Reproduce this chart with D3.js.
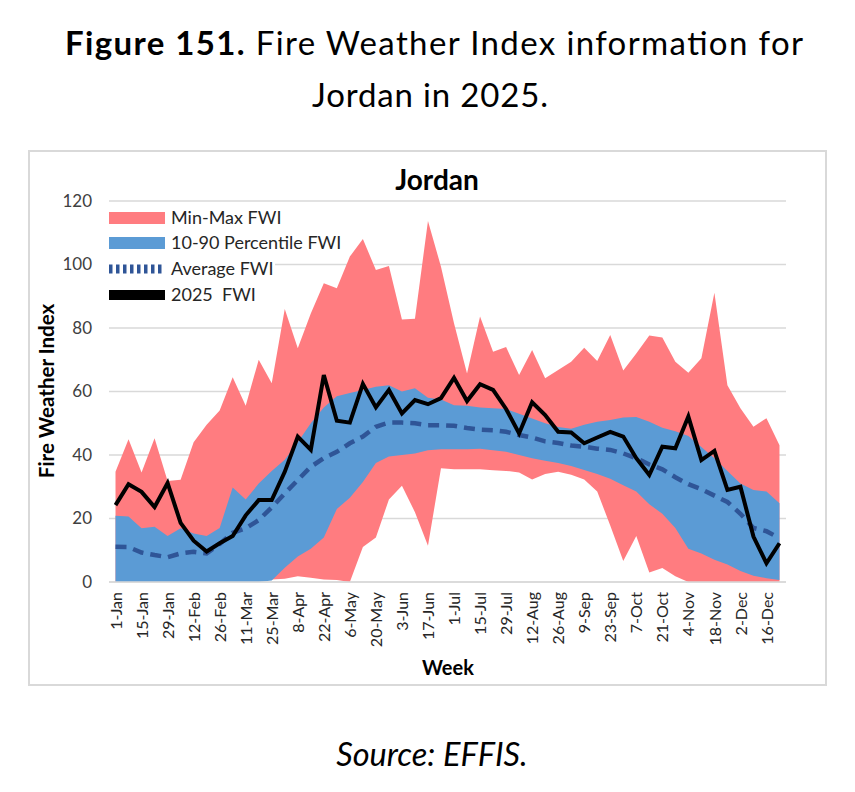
<!DOCTYPE html>
<meta charset="utf-8">
<script src="https://d3js.org/d3.v7.min.js"></script>
<style>
  body { margin: 0; background: #fff; }
  svg text { font-family: Lato, "Open Sans", sans-serif; }
</style>
<body>
<div id="chart"></div>
<script>

// week labels (every week of 2025, labels shown every other week)
const weeks = ["1-Jan","8-Jan","15-Jan","22-Jan","29-Jan","5-Feb","12-Feb","19-Feb","26-Feb","5-Mar",
  "11-Mar","18-Mar","25-Mar","1-Apr","8-Apr","15-Apr","22-Apr","29-Apr","6-May","13-May",
  "20-May","27-May","3-Jun","10-Jun","17-Jun","24-Jun","1-Jul","8-Jul","15-Jul","22-Jul",
  "29-Jul","5-Aug","12-Aug","19-Aug","26-Aug","2-Sep","9-Sep","16-Sep","23-Sep","30-Sep",
  "7-Oct","14-Oct","21-Oct","28-Oct","4-Nov","11-Nov","18-Nov","25-Nov","2-Dec","9-Dec",
  "16-Dec","23-Dec"];

const fwiMax = [34.7,45,34.5,45.3,31.8,32.2,44,49.5,54,64.5,55.5,70,62.6,86,73.6,84.6,94.1,92.5,102.5,108,
  98.3,99.5,82.7,82.9,113.7,99.3,81.5,65.7,83.6,72.5,74,65.2,73.1,64.2,66.8,69.4,73.8,69.6,77.8,66.6,
  72,77.6,77,69.4,65.9,70.5,91.1,62,54.7,48.9,51.6,43.1];

const fwiMin = [0,0,0,0,0,0,0,0,0,0,0.5,0.5,0.8,1,1.8,1.3,0.8,0.6,0,11,
  14,26,30.3,22,11.4,35.8,35.5,35.5,35.5,35.2,35,34.5,32.3,34,34.7,33.8,32.3,28.5,17.8,6.6,
  14.5,3,4.4,1.8,0,0,0,0,0,0,0,0];

const p90 = [20.9,20.6,16.9,17.4,14.5,16.9,15.3,14.5,17,29.8,26,31,35,38.5,44,50,55,58.5,59.5,60.5,
  61.5,62,60,61,58,57.5,55.7,55.5,55,54.7,54.5,53,51.5,50,48.8,48.3,49.5,50.5,51,51.8,
  52,50.5,48.6,47.5,46,42.5,39,35,31,29,28.5,24.8];

const p10 = [0,0,0,0,0,0,0,0,0,0,0,0,0.5,4.5,8,10.5,14,23,26.5,31.5,
  37.5,39.5,40,40.5,41.5,41.8,41.8,41.8,42,41.5,41,40,39,38.2,37.5,36.5,35.3,34,32.5,30.5,
  28.5,24.5,21.5,17,10.5,9,7,5.5,3.5,2,1.2,0.6];

const fwiAvg = [11.1,11,9.3,8.5,7.8,9,9.5,9,12,15.5,16.9,19.5,23.5,27.9,32.1,36.3,39,41,43.7,45.8,
  48.9,50.2,50.2,50,49.4,49.4,49.2,48.5,48,47.8,47.3,46.3,45.5,44.3,43.8,43,42.6,42,41.6,40.5,
  39,37,35.5,33,30.8,29.2,27.2,25.2,21.5,17,16,13.8];

const fwi2025 = [24.2,30.8,28.4,23.6,31.2,18.6,13,9.6,12.2,14.5,21,25.8,25.8,34.7,45.8,41.6,65.2,50.8,50.2,62.4,
  55,60.5,53.1,57.3,56,57.9,64.3,57,62.3,60.5,54.5,46.8,56.6,52.6,47.3,47.1,43.7,45.5,47.3,45.8,
  39,33.7,42.6,42.1,52.1,38.4,41.3,29,30,14.3,5.9,12.2];

const yTicks = [0, 20, 40, 60, 80, 100, 120];

const legendItems = ["Min-Max FWI", "10-90 Percentile FWI", "Average FWI", "2025  FWI"];

const W = 855, H = 792;
const plot = {left: 109, right: 786, top: 201, bottom: 582};

const svg = d3.select("#chart").append("svg")
  .attr("width", W).attr("height", H);

// figure caption
const cap1 = svg.append("text")
  .attr("x", 434).attr("y", 55)
  .attr("text-anchor", "middle")
  .attr("font-size", 33)
  .attr("textLength", 738).attr("lengthAdjust", "spacing")
  .attr("fill", "#000");
cap1.append("tspan").attr("font-weight", "bold").text("Figure 151.");
cap1.append("tspan").text(" Fire Weather Index information for");

svg.append("text")
  .attr("x", 430).attr("y", 107)
  .attr("text-anchor", "middle")
  .attr("font-size", 33)
  .attr("textLength", 236).attr("lengthAdjust", "spacing")
  .text("Jordan in 2025.");

svg.append("text")
  .attr("x", 432).attr("y", 766)
  .attr("text-anchor", "middle")
  .attr("font-style", "italic")
  .attr("font-size", 32.5)
  .text("Source: EFFIS.");

// chart frame
svg.append("rect")
  .attr("x", 29).attr("y", 151).attr("width", 797).attr("height", 534)
  .attr("fill", "none").attr("stroke", "#d9d9d9").attr("stroke-width", 2);

const x = d3.scalePoint()
  .domain(d3.range(weeks.length))
  .range([plot.left, plot.right])
  .padding(0.5);

const y = d3.scaleLinear()
  .domain([0, 120])
  .range([plot.bottom, plot.top]);

// gridlines
svg.append("g")
  .selectAll("line")
  .data(yTicks)
  .join("line")
    .attr("x1", plot.left).attr("x2", plot.right)
    .attr("y1", d => y(d)).attr("y2", d => y(d))
    .attr("stroke", "#d9d9d9").attr("stroke-width", 1.5);

// legend background (hides gridline behind the legend)
svg.append("rect")
  .attr("x", plot.left).attr("y", 206).attr("width", 166).attr("height", 100)
  .attr("fill", "#fff");

// y axis labels
const yAxis = svg.append("g")
  .attr("transform", `translate(${plot.left},0)`)
  .call(d3.axisLeft(y).tickValues(yTicks).tickSize(0).tickPadding(17));
yAxis.select(".domain").remove();
yAxis.selectAll("text")
  .attr("font-family", "Lato, sans-serif")
  .attr("font-size", 17)
  .attr("fill", "#404040");

// x axis labels
const xAxis = svg.append("g")
  .attr("transform", `translate(0,${plot.bottom})`)
  .call(d3.axisBottom(x)
    .tickValues(d3.range(0, weeks.length, 2))
    .tickFormat(i => weeks[i])
    .tickSize(0));
xAxis.select(".domain").remove();
xAxis.selectAll("text")
  .attr("font-family", "Lato, sans-serif")
  .attr("font-size", 16)
  .attr("fill", "#262626")
  .attr("transform", "rotate(-90)")
  .attr("text-anchor", "end")
  .attr("x", -10)
  .attr("y", 0)
  .attr("dy", "0.35em");

// areas
const pink = "#ff7c80", blue = "#5b9bd5", avgCol = "#2f5597";

svg.append("path")
  .datum(d3.range(weeks.length))
  .attr("fill", pink)
  .attr("d", d3.area()
    .x(i => x(i))
    .y0(i => y(fwiMin[i]))
    .y1(i => y(fwiMax[i])));

svg.append("path")
  .datum(d3.range(weeks.length))
  .attr("fill", blue)
  .attr("d", d3.area()
    .x(i => x(i))
    .y0(i => y(p10[i]))
    .y1(i => y(p90[i])));

// axis baseline
svg.append("line")
  .attr("x1", plot.left).attr("x2", plot.right)
  .attr("y1", y(0)).attr("y2", y(0))
  .attr("stroke", "#d9d9d9").attr("stroke-width", 1.5);

svg.append("path")
  .datum(fwiAvg)
  .attr("fill", "none")
  .attr("stroke", avgCol)
  .attr("stroke-width", 4.5)
  .attr("stroke-dasharray", "11,7")
  .attr("d", d3.line().x((d, i) => x(i)).y(d => y(d)));

svg.append("path")
  .datum(fwi2025)
  .attr("fill", "none")
  .attr("stroke", "#000")
  .attr("stroke-width", 4)
  .attr("stroke-linejoin", "miter")
  .attr("d", d3.line().x((d, i) => x(i)).y(d => y(d)));

// chart title and axis titles
svg.append("text")
  .attr("x", 437).attr("y", 190)
  .attr("text-anchor", "middle")
  .attr("font-weight", "bold").attr("font-size", 28)
  .text("Jordan");

svg.append("text")
  .attr("transform", "translate(54,391) rotate(-90)")
  .attr("text-anchor", "middle")
  .attr("font-weight", "bold").attr("font-size", 20.5)
  .text("Fire Weather Index");

svg.append("text")
  .attr("x", 448).attr("y", 675)
  .attr("text-anchor", "middle")
  .attr("font-weight", "bold").attr("font-size", 20)
  .text("Week");

// legend
const lg = svg.append("g");
const rowY = [218, 243, 269, 295];
legendItems.forEach((name, k) => {
  const g = lg.append("g").attr("transform", `translate(109,${rowY[k]})`);
  if (k === 0 || k === 1) {
    g.append("rect").attr("x", 0).attr("y", -6).attr("width", 56).attr("height", 12)
      .attr("fill", k === 0 ? pink : blue);
  } else if (k === 2) {
    g.append("line").attr("x1", 0).attr("x2", 56).attr("y1", 0).attr("y2", 0)
      .attr("stroke", avgCol).attr("stroke-width", 9).attr("stroke-dasharray", "3.5,3.5");
  } else {
    g.append("rect").attr("x", 0).attr("y", -5).attr("width", 56).attr("height", 10)
      .attr("fill", "#000");
  }
  g.append("text").attr("x", 62).attr("y", 0).attr("dy", "0.35em")
    .attr("font-size", 18).attr("fill", "#262626")
    .style("white-space", "pre")
    .text(name);
});

</script>
</body>
